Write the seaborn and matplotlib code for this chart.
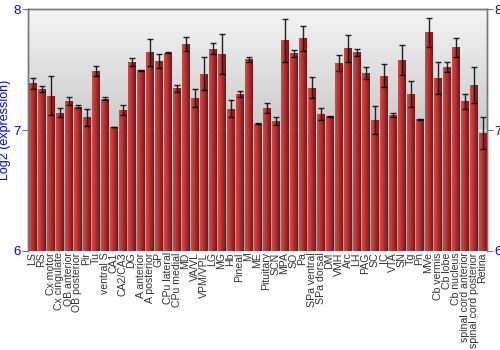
import numpy as np
import pandas as pd
import matplotlib
matplotlib.use("Agg")
import matplotlib.pyplot as plt
import seaborn as sns

regions = ["LS", "RS", "Cx motor", "Cx cingulate", "OB anterior", "OB posterior", "Pir", "Tu",
           "ventral S", "CA1", "CA2/CA3", "DG", "A anterior", "A posterior", "GP", "CPu lateral",
           "CPu medial", "MD", "VA/VL", "VPM/VPL", "LG", "MG", "Hb", "Pineal", "M", "ME",
           "Pituitary", "SCN", "MPA", "SO", "Pa", "SPa ventral", "SPa dorsal", "DM", "VMH", "Arc",
           "LH", "PAG", "SC", "IC", "VTA", "SN", "Tg", "Pn", "MVe", "Cb vermis", "Cb lobe",
           "Cb nucleus", "spinal cord anterior", "spinal cord posterior", "Retina"]
values = [7.386, 7.339, 7.284, 7.143, 7.240, 7.193, 7.107, 7.490,
          7.259, 7.025, 7.165, 7.562, 7.496, 7.642, 7.570, 7.639,
          7.344, 7.711, 7.264, 7.466, 7.672, 7.628, 7.176, 7.298, 7.587, 7.050,
          7.182, 7.077, 7.741, 7.634, 7.760, 7.350, 7.130, 7.113, 7.554, 7.675,
          7.642, 7.471, 7.083, 7.449, 7.124, 7.579, 7.300, 7.088, 7.807, 7.427, 7.521,
          7.683, 7.237, 7.372, 6.973]
errors = [0.044, 0.023, 0.160, 0.036, 0.029, 0.014, 0.070, 0.041,
          0.014, 0.004, 0.041, 0.032, 0.004, 0.113, 0.057, 0.005,
          0.026, 0.060, 0.077, 0.135, 0.044, 0.163, 0.069, 0.025, 0.021, 0.004,
          0.039, 0.032, 0.180, 0.028, 0.103, 0.087, 0.050, 0.006, 0.063, 0.109,
          0.029, 0.052, 0.117, 0.095, 0.017, 0.121, 0.109, 0.005, 0.123, 0.132, 0.040,
          0.079, 0.061, 0.150, 0.132]
yticks = [6, 7, 8]

df = pd.DataFrame({"region": regions, "value": values, "err": errors})

sns.set_style("white")
plt.rcParams["font.family"] = ["Liberation Sans", "DejaVu Sans"]

fig = plt.figure(figsize=(5, 3.5), dpi=100)
ax = fig.add_axes([0.056, 0.283, 0.918, 0.691])

YMIN, YMAX = 6, 8

# background gradient
grad = np.linspace(0, 1, 256).reshape(-1, 1)
top = np.array([0.96, 0.96, 0.96])
bot = np.array([0.62, 0.62, 0.62])
img = top[None, None, :] * (1 - grad[:, :, None]) + bot[None, None, :] * grad[:, :, None]
ax.imshow(img, extent=[0, 1, 0, 1], transform=ax.transAxes, aspect="auto", zorder=0)

sns.barplot(data=df, x="region", y="value", ax=ax, color="#a83030", width=0.88,
            errorbar=None, zorder=2, saturation=1)

# horizontal gradient on each bar
hg = np.linspace(0, 1, 64).reshape(1, -1)
left = np.array([0.82, 0.30, 0.30])
mid = np.array([0.72, 0.21, 0.21])
right = np.array([0.47, 0.08, 0.08])
t = hg[:, :, None]
bimg = np.where(t < 0.4, left * (1 - t / 0.4) + mid * (t / 0.4),
                mid * (1 - (t - 0.4) / 0.6) + right * ((t - 0.4) / 0.6))
for p in list(ax.patches):
    x0 = p.get_x()
    w, h = p.get_width(), p.get_height()
    ytop = p.get_y() + h
    im = ax.imshow(bimg, extent=[x0, x0 + w, YMIN, ytop], aspect="auto", zorder=3)
    im.set_clip_path(p)
    p.set_edgecolor((0.85, 0.45, 0.45, 0.5))
    p.set_linewidth(0.5)

ax.axhline(7, color="white", lw=0.8, alpha=0.7, zorder=1)

ax.errorbar(np.arange(len(regions)), df["value"], yerr=df["err"], fmt="none",
            ecolor="black", elinewidth=1, capsize=2, capthick=1, alpha=0.85, zorder=5)

ax.set_ylim(YMIN, YMAX)
ax.set_xlim(-0.5, len(regions) - 0.5)
ax.set_aspect("auto")

ax.set_yticks(yticks)
ax.set_yticklabels([str(v) for v in yticks], color="blue", fontsize=9.5)
ax.set_ylabel("Log2 (expression)", color="blue", fontsize=9, labelpad=2)
ax.set_xlabel("")
ax.set_xticks(np.arange(len(regions)))
ax.set_xticklabels(regions, rotation=90, fontsize=7.6, color="#333333")
ax.tick_params(axis="x", length=0, pad=1)
ax.tick_params(axis="y", length=4, color="#777777", pad=1, direction="out", left=True)

ax2 = ax.twinx()
ax2.set_ylim(YMIN, YMAX)
ax2.set_yticks(yticks)
ax2.set_yticklabels([str(v) for v in yticks], color="blue", fontsize=9.5)
ax2.tick_params(axis="y", length=4, color="#777777", pad=1, direction="out", right=True)

for a in (ax, ax2):
    for s in ["top", "left", "right"]:
        a.spines[s].set_visible(True)
        a.spines[s].set_color("#777777")
        a.spines[s].set_linewidth(1)
    a.spines["bottom"].set_visible(False)

fig.savefig("out.png", dpi=100)
